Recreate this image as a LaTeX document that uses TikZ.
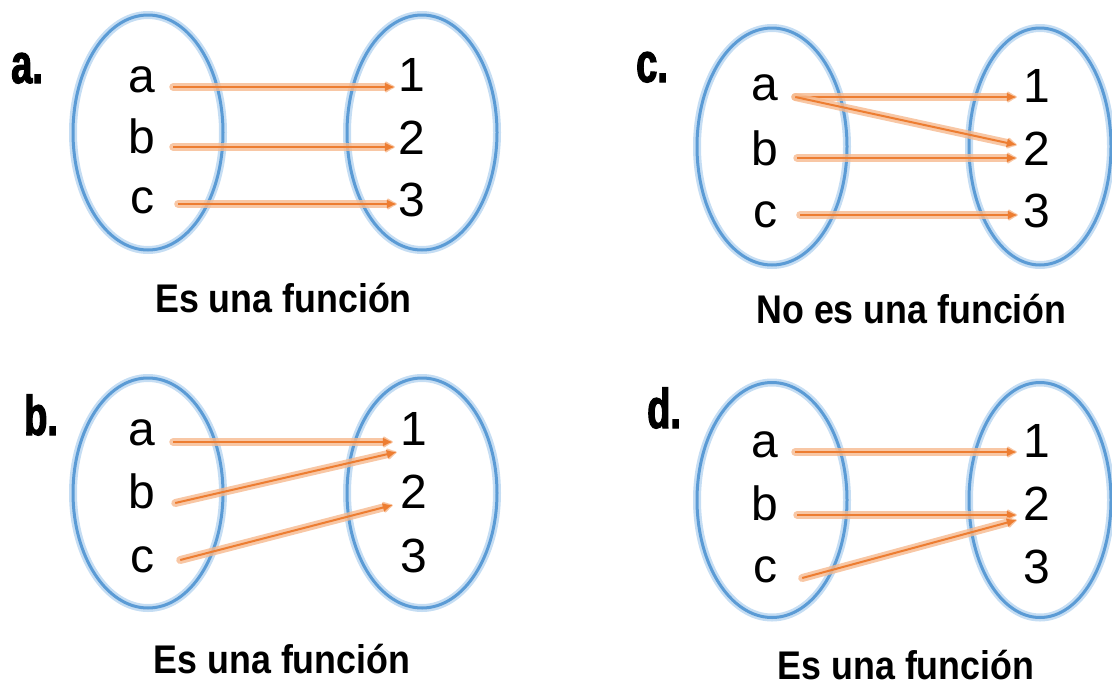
\documentclass[tikz,border=0pt]{standalone}
\usepackage{fontspec}
\setmainfont{Liberation Sans}
\newfontfamily\capfont[FakeStretch=0.895,UprightFont={* Bold}]{Liberation Sans}
\newfontfamily\tagfont[FakeStretch=0.68,FakeBold=2,UprightFont={* Bold}]{Liberation Sans}
\usepackage{tikz}
\usetikzlibrary{arrows.meta}

\definecolor{setblue}{HTML}{5B9BD5}
\definecolor{setglow}{HTML}{C5DDF3}
\definecolor{maporange}{HTML}{ED7D31}
\definecolor{mapglow}{HTML}{F6B98E}

\tikzset{
  set/.style={draw=setblue, line width=3pt,
    preaction={draw=setglow, line width=8pt}},
  elem/.style={inner sep=0pt, anchor=base, font=\fontsize{48}{48}\selectfont},
  maps/.style={draw=maporange, line width=2pt, -{Latex[length=10pt,width=9pt]},
    preaction={draw=mapglow, draw opacity=0.8, line width=8pt, line cap=round,
      -{Latex[length=12pt,width=14pt,round]}}},
  verdict/.style={inner sep=0pt, anchor=base, font=\capfont\fontsize{40}{40}\selectfont},
  tag/.style={inner sep=0pt, anchor=base west, font=\tagfont\fontsize{56}{56}\selectfont}
}

\begin{document}
\begin{tikzpicture}[x=1pt, y=-1pt]
  \useasboundingbox (0,0) rectangle (1112,686);

  % sets
  \draw [set] (148,132.5) ellipse [x radius=75, y radius=117.5];
  \draw [set] (422,132.5) ellipse [x radius=75, y radius=117.5];
  \draw [set] (148,493) ellipse [x radius=75, y radius=115];
  \draw [set] (422,493) ellipse [x radius=75, y radius=115];
  \draw [set] (772,146.5) ellipse [x radius=75, y radius=118.5];
  \draw [set] (1040,146.5) ellipse [x radius=71, y radius=118.5];
  \draw [set] (772,500) ellipse [x radius=75, y radius=117.5];
  \draw [set] (1040,500) ellipse [x radius=71, y radius=117.5];

  % a.
  \node (tA) at (11,83) [tag] {a.};
  \node (Aa) at (142,92) [elem] {a};
  \node (Ab) at (142,153) [elem] {b};
  \node (Ac) at (142,213) [elem] {c};
  \node (A1) at (412,91) [elem] {1};
  \node (A2) at (412,154) [elem] {2};
  \node (A3) at (412,216) [elem] {3};
  \draw [maps] ([shift={(17.7pt,5pt)}]Aa.base east) -- ([shift={(-3.7pt,4pt)}]A1.base west);
  \draw [maps] ([shift={(17.7pt,6pt)}]Ab.base east) -- ([shift={(-3.7pt,7pt)}]A2.base west);
  \draw [maps] ([shift={(24pt,9pt)}]Ac.base east) -- ([shift={(-1.7pt,12pt)}]A3.base west);
  \node (vA) at (283.5,312) [verdict] {Es una función};

  % b.
  \node (tB) at (24,435) [tag] {b.};
  \node (Ba) at (142,445) [elem] {a};
  \node (Bb) at (142,508) [elem] {b};
  \node (Bc) at (142,572) [elem] {c};
  \node (B1) at (414,445) [elem] {1};
  \node (B2) at (414,508) [elem] {2};
  \node (B3) at (414,572) [elem] {3};
  \draw [maps] ([shift={(17.7pt,3pt)}]Ba.base east) -- ([shift={(-7.7pt,3pt)}]B1.base west);
  \draw [maps] ([shift={(19.7pt,5pt)}]Bb.base east) -- ([shift={(-3.7pt,-7pt)}]B1.base west);
  \draw [maps] ([shift={(26pt,12pt)}]Bc.base east) -- ([shift={(-7.7pt,3pt)}]B2.base west);
  \node (vB) at (282,673) [verdict] {Es una función};

  % c.
  \node (tC) at (636,82) [tag] {c.};
  \node (Ca) at (765,100) [elem] {a};
  \node (Cb) at (765,165) [elem] {b};
  \node (Cc) at (765,227) [elem] {c};
  \node (C1) at (1037,102) [elem] {1};
  \node (C2) at (1037,165) [elem] {2};
  \node (C3) at (1037,227) [elem] {3};
  \draw [maps] ([shift={(16.7pt,3pt)}]Ca.base east) -- ([shift={(-6.7pt,5pt)}]C1.base west);
  \draw [maps] ([shift={(16.7pt,3pt)}]Ca.base east) -- ([shift={(-6.7pt,20pt)}]C2.base west);
  \draw [maps] ([shift={(18.7pt,7pt)}]Cb.base east) -- ([shift={(-6.7pt,7pt)}]C2.base west);
  \draw [maps] ([shift={(23pt,12pt)}]Cc.base east) -- ([shift={(-5.7pt,12pt)}]C3.base west);
  \node (vC) at (911.5,323) [verdict] {No es una función};

  % d.
  \node (tD) at (647,428) [tag] {d.};
  \node (Da) at (765,457) [elem] {a};
  \node (Db) at (765,520) [elem] {b};
  \node (Dc) at (765,582) [elem] {c};
  \node (D1) at (1037,457) [elem] {1};
  \node (D2) at (1037,520) [elem] {2};
  \node (D3) at (1037,583) [elem] {3};
  \draw [maps] ([shift={(16.7pt,5pt)}]Da.base east) -- ([shift={(-6.7pt,5pt)}]D1.base west);
  \draw [maps] ([shift={(18.7pt,5pt)}]Db.base east) -- ([shift={(-6.7pt,5pt)}]D2.base west);
  \draw [maps] ([shift={(25pt,4pt)}]Dc.base east) -- ([shift={(-6.7pt,0pt)}]D2.base west);
  \node (vD) at (906,679) [verdict] {Es una función};
\end{tikzpicture}
\end{document}
